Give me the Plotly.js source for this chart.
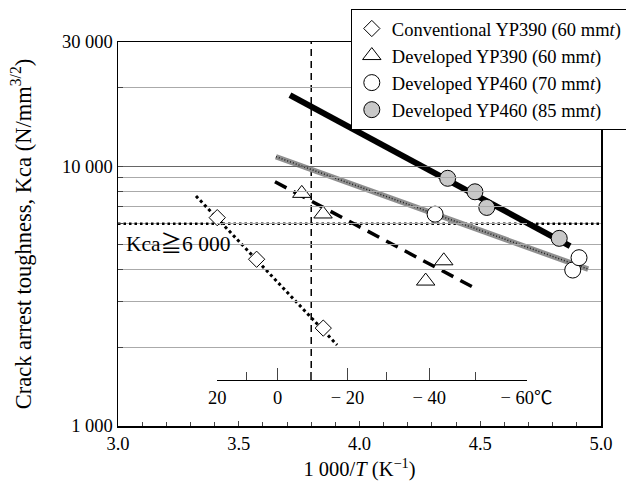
<!DOCTYPE html>
<html><head><meta charset="utf-8">
<script src="https://cdn.plot.ly/plotly-3.0.1.min.js"></script>
<style>html,body{margin:0;padding:0;background:#fff}#chart{width:626px;height:486px}</style>
</head><body><div id="chart"></div>
<script>
// ---- Data (1000/T in K^-1, Kca in N/mm^3/2) ----
const convX = [3.411, 3.574, 3.850];
const convKca = [6330, 4380, 2380];
const convFitX = [3.323, 3.907];
const convFitKca = [7670, 2050];

const dev390X = [3.761, 3.849, 4.274, 4.349];
const dev390Kca = [7850, 6540, 3610, 4320];
const dev390FitX = [3.650, 4.465];
const dev390FitKca = [8700, 3440];

const dev460aX = [4.313, 4.883, 4.909];
const dev460aKca = [6530, 3980, 4440];
const dev460aFitX = [3.654, 4.947];
const dev460aFitKca = [10860, 4010];

const dev460bX = [4.365, 4.478, 4.527, 4.827];
const dev460bKca = [8970, 7960, 6930, 5270];
const dev460bFitX = [3.712, 4.872];
const dev460bFitKca = [18750, 4920];

const kcaRequired = 6000;
const designTempC = -10;

const legendNames = [
  'Conventional YP390 (60 mm<i>t</i>)',
  'Developed YP390 (60 mm<i>t</i>)',
  'Developed YP460 (70 mm<i>t</i>)',
  'Developed YP460 (85 mm<i>t</i>)'
];

const xRange = [3.0, 5.0];
const yMin = 1000, yMax = 30000;
const yTickVals = [1000, 10000, 30000];
const yTickText = ['1 000', '10 000', '30 000'];
const yMinorVals = [2000, 3000, 4000, 5000, 6000, 7000, 8000, 9000, 20000];

const tempMajorC = [20, 0, -20, -40, -60];
const tempMajorLabels = ['20', '0', '− 20', '− 40', '− 60℃'];
const tempMinorC = [10, -10, -30, -50];

// ---- helpers ----
const inv = t => 1000 / (t + 273.15);
const tempAxisPos = 0.12;
const lgMin = Math.log10(yMin), lgMax = Math.log10(yMax);
const tempLineBottom = Math.pow(10, lgMin + tempAxisPos * (lgMax - lgMin));
const tHi = inv(tempMajorC[0]), tLo = inv(tempMajorC[tempMajorC.length - 1]);
const xSpan = xRange[1] - xRange[0];

const FONT = "'Liberation Serif', 'Noto Sans CJK JP', serif";
const mk = (sym, size, fill) => ({symbol: sym, size: size, color: fill, line: {color: '#000', width: 1}});

const traces = [
  // reference lines
  {x: xRange, y: [kcaRequired, kcaRequired], mode: 'lines', showlegend: false, hoverinfo: 'skip',
   line: {color: '#000', width: 2.5, dash: '2.5px,3px'}},
  {x: [inv(designTempC), inv(designTempC)], y: [tempLineBottom, yMax], mode: 'lines', showlegend: false, hoverinfo: 'skip',
   line: {color: '#000', width: 1.5, dash: '7px,5px'}},
  // fit lines
  {x: convFitX, y: convFitKca, mode: 'lines', showlegend: false, line: {color: '#000', width: 3, dash: '3px,3px'}},
  {x: dev390FitX, y: dev390FitKca, mode: 'lines', showlegend: false, line: {color: '#000', width: 3.5, dash: '13px,8px'}},
  {x: dev460aFitX, y: dev460aFitKca, mode: 'lines', showlegend: false, line: {color: '#8f8f8f', width: 5.5}},
  {x: dev460aFitX, y: dev460aFitKca, mode: 'lines', showlegend: false, line: {color: '#222', width: 1.5, dash: '1px,2px'}},
  {x: dev460bFitX, y: dev460bFitKca, mode: 'lines', showlegend: false, line: {color: '#000', width: 6}},
  // points
  {x: convX, y: convKca, mode: 'markers', name: legendNames[0], marker: mk('diamond', 12.5, '#fff')},
  {x: dev390X, y: dev390Kca, mode: 'markers', name: legendNames[1], marker: mk('triangle-up', 16, '#fff')},
  {x: dev460aX, y: dev460aKca, mode: 'markers', name: legendNames[2], marker: mk('circle', 16, '#fff')},
  {x: dev460bX, y: dev460bKca, mode: 'markers', name: legendNames[3], marker: mk('circle', 16, '#c8c8c8')},
  // temperature axis carrier
  {x: [tHi, tLo], y: [yMin, yMin], xaxis: 'x2', mode: 'markers', marker: {opacity: 0}, showlegend: false, hoverinfo: 'skip'}
];

const layout = {
  width: 626, height: 486,
  margin: {l: 118, r: 25, t: 42, b: 60, autoexpand: false},
  paper_bgcolor: '#fff', plot_bgcolor: 'rgba(0,0,0,0)',
  font: {family: FONT, size: 18.5, color: '#000'},
  showlegend: true,
  legend: {x: 0.482, y: 1.086, xanchor: 'left', yanchor: 'top', bgcolor: '#fff', bordercolor: '#000', borderwidth: 1,
           font: {family: FONT, size: 18.5, color: '#000'}, tracegroupgap: 0, itemwidth: 30},
  xaxis: {
    range: xRange, tick0: 3, dtick: 0.5, tickformat: '.1f', ticks: 'inside', ticklen: 5, tickwidth: 1,
    minor: {dtick: 0.1, ticks: 'inside', ticklen: 4, tickwidth: 1},
    showline: true, linecolor: '#000', linewidth: 1.5, mirror: true, showgrid: false, zeroline: false,
    title: {text: '1 000/<i>T</i> (K<sup>−1</sup>)', font: {size: 20.5}, standoff: 9}
  },
  xaxis2: {
    domain: [(tHi - xRange[0]) / xSpan, (tLo - xRange[0]) / xSpan], range: [tHi, tLo],
    anchor: 'free', position: tempAxisPos, side: 'bottom',
    tickmode: 'array', tickvals: tempMajorC.map(inv), ticktext: tempMajorLabels,
    ticks: 'inside', ticklen: 12, tickwidth: 1.5,
    minor: {tickmode: 'array', tickvals: tempMinorC.map(inv), ticks: 'inside', ticklen: 8, tickwidth: 1.5},
    showline: true, linecolor: '#000', linewidth: 1.5, showgrid: false, zeroline: false
  },
  yaxis: {
    type: 'log', range: [lgMin, lgMax],
    tickmode: 'array', tickvals: yTickVals, ticktext: yTickText,
    ticks: 'inside', ticklen: 5, tickwidth: 1,
    showgrid: true, gridcolor: '#666', gridwidth: 1,
    minor: {tickmode: 'array', tickvals: yMinorVals, ticks: 'inside', ticklen: 5, tickwidth: 1,
            showgrid: true, gridcolor: '#aaa', gridwidth: 1},
    showline: true, linecolor: '#000', linewidth: 1.5, mirror: true, zeroline: false,
    title: {text: 'Crack arrest toughness, Kca (N/mm<sup>3/2</sup>)', font: {size: 22.5}, standoff: 24}
  },
  annotations: [{
    x: 3.025, y: Math.log10(5000), xref: 'x', yref: 'y', xanchor: 'left', yanchor: 'middle',
    text: 'Kca≧6 000', showarrow: false, font: {family: FONT, size: 21.5, color: '#000'}
  }]
};

Plotly.newPlot('chart', traces, layout, {displayModeBar: false, staticPlot: true});
</script>
</body></html>
